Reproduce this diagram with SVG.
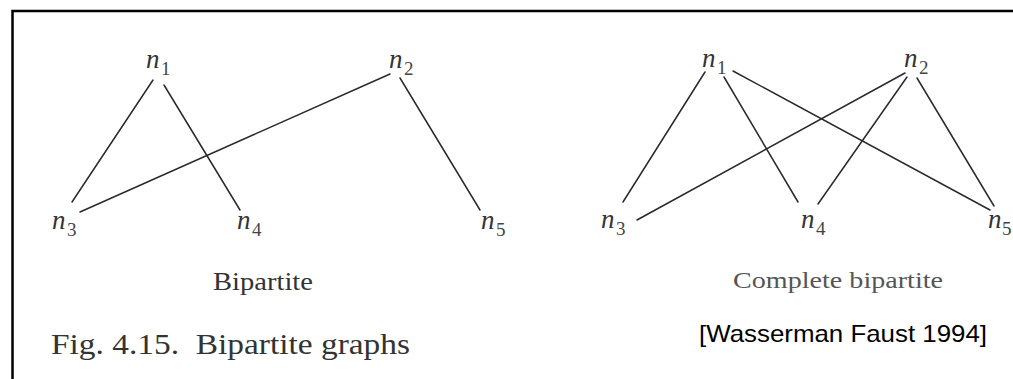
<svg xmlns="http://www.w3.org/2000/svg" width="1013" height="379" viewBox="0 0 1013 379">
<style>
.e{stroke:#2a2a2a;stroke-width:1.5;fill:none;stroke-linecap:round}
.n{font-family:"Liberation Serif","Times New Roman",serif;font-style:italic;font-size:27px;fill:#333}
.s{font-family:"Liberation Serif","Times New Roman",serif;font-size:19px;fill:#444}
.cap{font-family:"Liberation Serif","Times New Roman",serif;fill:#333}
.ref{font-family:"Liberation Sans",Arial,sans-serif;font-size:24px;fill:#000}
</style>
<rect width="1013" height="379" fill="#fff"/>
<path d="M12.5 400 V11 H1013" stroke="#000" stroke-width="2.5" fill="none"/>
<g id="connectors">
<line class="e" x1="153" y1="80" x2="72" y2="202"/>
<line class="e" x1="164" y1="85" x2="240" y2="210"/>
<line class="e" x1="390" y1="74" x2="80" y2="212"/>
<line class="e" x1="400" y1="78" x2="480" y2="210"/>
<line class="e" x1="705" y1="72" x2="623" y2="202"/>
<line class="e" x1="724" y1="77" x2="798" y2="202"/>
<line class="e" x1="733" y1="71" x2="990" y2="210"/>
<line class="e" x1="905" y1="73" x2="637" y2="220"/>
<line class="e" x1="907" y1="77" x2="818" y2="204"/>
<line class="e" x1="917" y1="78" x2="994" y2="206"/>
</g>
<g id="L-n1"><text class="n" x="146" y="68">n</text><text class="s" x="161" y="75">1</text></g>
<g id="L-n2"><text class="n" x="389" y="68">n</text><text class="s" x="404" y="75">2</text></g>
<g id="L-n3"><text class="n" x="52" y="229">n</text><text class="s" x="67" y="236">3</text></g>
<g id="L-n4"><text class="n" x="237" y="229">n</text><text class="s" x="252" y="236">4</text></g>
<g id="L-n5"><text class="n" x="481" y="229">n</text><text class="s" x="496" y="236">5</text></g>
<g id="R-n1"><text class="n" x="702" y="67">n</text><text class="s" x="717" y="74">1</text></g>
<g id="R-n2"><text class="n" x="904" y="67">n</text><text class="s" x="919" y="74">2</text></g>
<g id="R-n3"><text class="n" x="601" y="228">n</text><text class="s" x="616" y="235">3</text></g>
<g id="R-n4"><text class="n" x="801" y="228">n</text><text class="s" x="816" y="235">4</text></g>
<g id="R-n5"><text class="n" x="988" y="228">n</text><text class="s" x="1002" y="235">5</text></g>
<text class="cap" x="213" y="290" font-size="25" textLength="100" lengthAdjust="spacingAndGlyphs">Bipartite</text>
<text class="cap" x="733" y="288" font-size="24" style="fill:#555" textLength="210" lengthAdjust="spacingAndGlyphs">Complete bipartite</text>
<text class="cap" x="51" y="354" font-size="30" xml:space="preserve" textLength="359" lengthAdjust="spacingAndGlyphs">Fig. 4.15.  Bipartite graphs</text>
<text class="ref" x="699" y="342" textLength="288" lengthAdjust="spacingAndGlyphs">[Wasserman Faust 1994]</text>
</svg>
